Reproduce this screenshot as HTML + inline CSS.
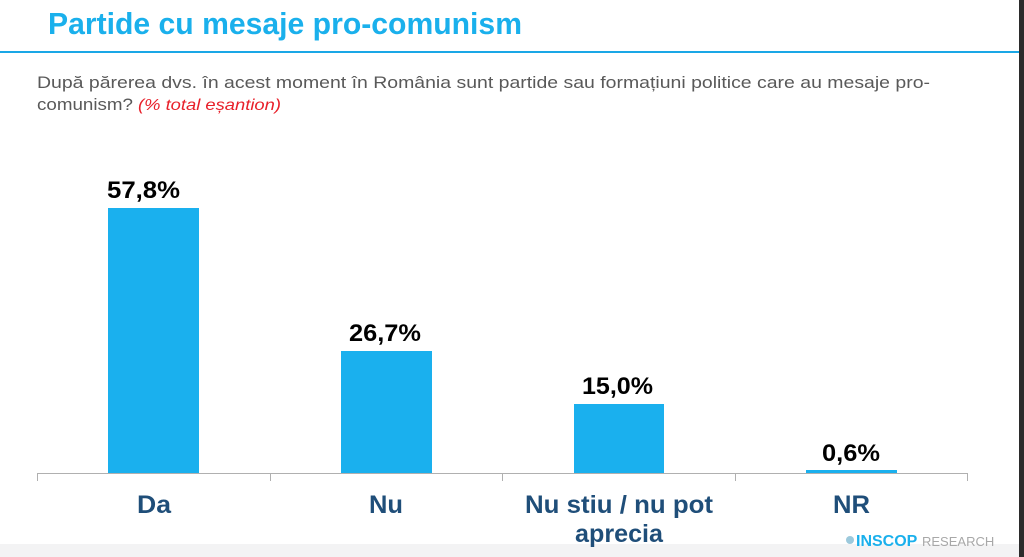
<!DOCTYPE html>
<html><head><meta charset="utf-8"><style>
html,body{margin:0;padding:0;background:#fff;}
svg{display:block;}
</style></head><body>
<svg width="1024" height="557" xmlns="http://www.w3.org/2000/svg" font-family="Liberation Sans, sans-serif">
<rect width="1024" height="557" fill="#fff"/>
<rect x="0" y="544" width="1024" height="13" fill="#f3f3f4"/>
<rect x="1019" y="0" width="5" height="557" fill="#2b2b2b"/>
<rect x="0" y="51" width="1019" height="2" fill="#1aa7e6"/>
<text x="48" y="34" font-size="31" font-weight="bold" fill="#1ab0ec" textLength="474" lengthAdjust="spacingAndGlyphs">Partide cu mesaje pro-comunism</text>
<text x="37" y="88" font-size="17" fill="#595959" textLength="893" lengthAdjust="spacingAndGlyphs">După părerea dvs. în acest moment în România sunt partide sau formațiuni politice care au mesaje pro-</text>
<text x="37" y="110" font-size="17" fill="#595959" textLength="96" lengthAdjust="spacingAndGlyphs">comunism?</text>
<text x="138" y="110" font-size="16" font-style="italic" fill="#e8202a" textLength="143" lengthAdjust="spacingAndGlyphs">(% total eșantion)</text>
<g fill="#1ab0ee">
<rect x="108" y="208" width="91" height="265"/>
<rect x="341" y="351" width="91" height="122"/>
<rect x="574" y="404" width="90" height="69"/>
<rect x="806" y="470" width="91" height="3"/>
</g>
<g stroke="#b0b0b0" stroke-width="1">
<line x1="37" y1="473.5" x2="967" y2="473.5"/>
<line x1="37.5" y1="473" x2="37.5" y2="481"/>
<line x1="270.5" y1="473" x2="270.5" y2="481"/>
<line x1="502.5" y1="473" x2="502.5" y2="481"/>
<line x1="735.5" y1="473" x2="735.5" y2="481"/>
<line x1="967.5" y1="473" x2="967.5" y2="481"/>
</g>
<g font-size="24" font-weight="bold" fill="#000">
<text x="107" y="198" textLength="73" lengthAdjust="spacingAndGlyphs">57,8%</text>
<text x="349" y="341" textLength="72" lengthAdjust="spacingAndGlyphs">26,7%</text>
<text x="582" y="394" textLength="71" lengthAdjust="spacingAndGlyphs">15,0%</text>
<text x="822" y="461" textLength="58" lengthAdjust="spacingAndGlyphs">0,6%</text>
</g>
<g font-size="25" font-weight="bold" fill="#1f4e79">
<text x="137" y="513" textLength="34" lengthAdjust="spacingAndGlyphs">Da</text>
<text x="369" y="513" textLength="34" lengthAdjust="spacingAndGlyphs">Nu</text>
<text x="525" y="513" textLength="188" lengthAdjust="spacingAndGlyphs">Nu stiu / nu pot</text>
<text x="575" y="542" textLength="88" lengthAdjust="spacingAndGlyphs">aprecia</text>
<text x="833" y="513" textLength="37" lengthAdjust="spacingAndGlyphs">NR</text>
</g>
<circle cx="850" cy="540" r="4" fill="#9cc9dc"/>
<text x="856" y="546" font-size="16" font-weight="bold" fill="#1ab0ec">INSCOP</text>
<text x="922" y="546" font-size="13" fill="#a8a8a8">RESEARCH</text>
</svg>
</body></html>
